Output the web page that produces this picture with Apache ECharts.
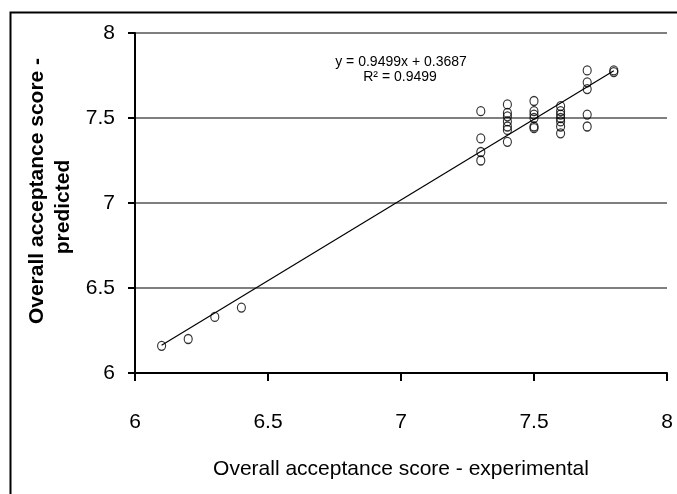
<!DOCTYPE html>
<html>
<head>
<meta charset="utf-8">
<script src="https://cdn.jsdelivr.net/npm/echarts@6/dist/echarts.min.js"></script>
<style>
html,body{margin:0;padding:0;background:#fff;}
#chart{width:677px;height:494px;}
</style>
</head>
<body>
<div id="chart"></div>
<script>
// Experimental scores (x) and predicted scores (y)
var experimental = [6.1, 6.2, 6.3, 6.4,
  7.3, 7.3, 7.3, 7.3,
  7.4, 7.4, 7.4, 7.4, 7.4, 7.4, 7.4,
  7.5, 7.5, 7.5, 7.5, 7.5, 7.5,
  7.6, 7.6, 7.6, 7.6, 7.6, 7.6, 7.6,
  7.7, 7.7, 7.7, 7.7, 7.7,
  7.8, 7.8];
var predicted = [6.16, 6.20, 6.33, 6.385,
  7.54, 7.38, 7.30, 7.25,
  7.58, 7.53, 7.51, 7.48, 7.45, 7.43, 7.36,
  7.60, 7.54, 7.52, 7.50, 7.45, 7.44,
  7.57, 7.54, 7.52, 7.50, 7.48, 7.45, 7.41,
  7.78, 7.71, 7.67, 7.52, 7.45,
  7.78, 7.77];
// Trendline endpoints (y = 0.9499x + 0.3687)
var trendX = [6.1, 7.8];
var trendY = [6.163, 7.778];
var xTicks = [6, 6.5, 7, 7.5, 8];
var yTicks = [6, 6.5, 7, 7.5, 8];
var equationText = 'y = 0.9499x + 0.3687';
var r2Text = 'R² = 0.9499';
var xTitle = 'Overall acceptance score - experimental';
var yTitle1 = 'Overall acceptance score -';
var yTitle2 = 'predicted';

var pts = experimental.map(function (x, i) { return [x, predicted[i]]; });
var trend = trendX.map(function (x, i) { return [x, trendY[i]]; });
var FONT = '"Liberation Sans", Arial, sans-serif';

var chart = echarts.init(document.getElementById('chart'), null, {renderer: 'canvas'});
chart.setOption({
  animation: false,
  backgroundColor: '#fff',
  grid: {left: 135, right: 10, top: 33, bottom: 121, containLabel: false},
  xAxis: {
    type: 'value', min: 6, max: 8, interval: 0.5,
    axisLine: {show: true, onZero: false, lineStyle: {color: '#000', width: 2}},
    axisTick: {show: true, length: 8, lineStyle: {color: '#000', width: 2}},
    axisLabel: {color: '#000', fontFamily: FONT, fontSize: 21, margin: 39,
      formatter: function (v) { return xTicks.indexOf(v) >= 0 ? String(v) : ''; }},
    splitLine: {show: false},
    name: xTitle, nameLocation: 'middle', nameGap: 86,
    nameTextStyle: {color: '#000', fontFamily: FONT, fontSize: 21}
  },
  yAxis: {
    type: 'value', min: 6, max: 8, interval: 0.5,
    axisLine: {show: true, onZero: false, lineStyle: {color: '#000', width: 2}},
    axisTick: {show: true, length: 7, lineStyle: {color: '#000', width: 2}},
    axisLabel: {color: '#000', fontFamily: FONT, fontSize: 21, margin: 20,
      formatter: function (v) { return yTicks.indexOf(v) >= 0 ? String(v) : ''; }},
    splitLine: {show: true, lineStyle: {color: '#555', width: 1.5}}
  },
  graphic: [
    {type: 'rect', left: 8, top: 10, z: 0, silent: true,
      shape: {width: 700, height: 500},
      style: {fill: 'none', stroke: '#000', lineWidth: 2}},
    {type: 'text', x: 401, y: 62, z: 10,
      style: {text: equationText, fill: '#000', font: '14px ' + FONT, align: 'center', verticalAlign: 'middle'}},
    {type: 'text', x: 400, y: 77, z: 10,
      style: {text: r2Text, fill: '#000', font: '14px ' + FONT, align: 'center', verticalAlign: 'middle'}},
    {type: 'text', x: 37, y: 191, rotation: Math.PI / 2, z: 10,
      style: {text: yTitle1, fill: '#000', font: 'bold 21px ' + FONT, align: 'center', verticalAlign: 'middle'}},
    {type: 'text', x: 63, y: 207, rotation: Math.PI / 2, z: 10,
      style: {text: yTitle2, fill: '#000', font: 'bold 21px ' + FONT, align: 'center', verticalAlign: 'middle'}}
  ],
  series: [
    {type: 'line', data: trend, symbol: 'none', silent: true, z: 3,
      lineStyle: {color: '#000', width: 1.2}},
    {type: 'scatter', data: pts, symbol: 'circle', symbolSize: [8, 9], z: 4,
      itemStyle: {color: 'rgba(0,0,0,0)', borderColor: '#000', borderWidth: 1.2}}
  ]
});
</script>
</body>
</html>
